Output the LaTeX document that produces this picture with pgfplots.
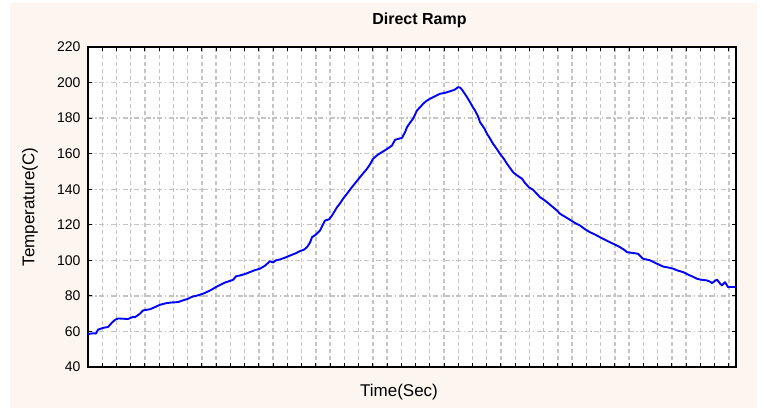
\documentclass[border=0pt]{standalone}
\usepackage{pgfplots}
\pgfplotsset{compat=1.18}
\usepackage{fontspec}
\setmainfont{Liberation Sans}
\definecolor{bgbeige}{RGB}{253,246,240}
\definecolor{gridgray}{RGB}{196,196,196}
\definecolor{curveblue}{RGB}{0,0,255}
\begin{document}
\begin{tikzpicture}[x=1pt,y=1pt]
\path[use as bounding box] (0,0) rectangle (763,409);
\fill[bgbeige] (10,1) rectangle (757,406);
\begin{axis}[
  at={(88pt,42pt)}, anchor=south west,
  scale only axis, width=648pt, height=320pt,
  xmin=88, xmax=736, ymin=40, ymax=220,
  xtick={102.24,116.48,...,729}, xticklabels={},
  ytick={40,60,...,220},
  /pgf/number format/assume math mode=true,
  yticklabel style={font=\fontsize{14}{16}\selectfont, xshift=-4pt},
  axis background/.style={fill=white},
  axis line style={line width=2pt, black},
  tick style={black, line width=1pt},
  major tick length=4pt,
  grid=major,
  major x grid style={gridgray, line width=1.4pt, dash pattern=on 4pt off 3pt},
  major y grid style={gridgray, line width=1.4pt, dash pattern=on 5pt off 2.5pt on 1.5pt off 2.5pt},
  clip=true,
]
\addplot[curveblue, line width=1.9pt, line join=round] coordinates {
(88,58.5)(93,59)(96,58.8)(98,61)(103,62)(108,62.5)(112,65)(115,66.5)(118,67.3)
(128,67)(133,68.2)(135,68)(140,70)(143,71.8)(150,72.5)(155,73.7)(160,75)(167,76)
(172,76.3)(178,76.5)(183,77.5)(186,78)(188,78.4)(192,79.5)(196,80)(203,81.2)
(210,83)(217,85.3)(225,87.5)(233,89)(236,91)(240,91.5)(245,92.3)(250,93.4)
(255,94.5)(260,95.3)(265,97)(268,98.5)(270,99.5)(273,98.8)(276,100)(280,100.5)
(285,101.5)(290,102.7)(295,103.8)(300,105.2)(304,106)(307,107.4)(310,110)
(312,113)(316,114.5)(320,116.8)(325,122.4)(329,123)(332,125.2)(335,128)
(337,129.9)(340,132)(343,134.6)(347,137.5)(352,141.2)(356,144)(360,146.8)
(364,149.5)(367,151.5)(370,154)(373,157.1)(378,159.5)(383,161.2)(388,163)
(392,164.6)(395,167.8)(402,168.9)(405,172)(407,174.9)(410,177.4)(413,179.6)
(417,184.3)(420,186.1)(423,188)(426,189.5)(430,190.9)(435,192.3)(440,193.7)
(445,194.2)(450,195.1)(454,195.8)(456,196.5)(458,197.4)(460,197.2)(462,196)
(465,193.5)(467,191.8)(470,189)(473,186)(475,184.3)(478,181)(480,177.7)
(484,174.5)(487,171.2)(490,168.5)(493,165.6)(497,162.5)(500,159.9)(504,157)
(507,154.3)(510,152)(513,149.6)(517,147.8)(522,145.9)(525,143.5)(529,141)
(533,139.7)(537,137.3)(540,135.5)(544,134)(547,132.7)(550,131.3)(553,129.9)
(557,128)(560,126.2)(565,124.5)(570,122.8)(575,121)(580,119.6)(585,117.5)
(590,115.8)(595,114.5)(600,113)(605,111.6)(610,110.2)(615,108.8)(620,107.4)
(624,106)(627,104.6)(632,104.2)(638,103.7)(643,100.9)(650,100)(657,98.1)
(663,96.5)(668,96)(673,95.3)(678,94.2)(683,93.4)(690,91.5)(694,90.5)(697,89.6)
(702,89)(707,88.7)(710,88)(712,87.2)(715,88.5)(717,89.1)(720,87)(722,85.9)
(725,87.7)(728,85)(735,85)(736,85)
};
\end{axis}
\node[font=\bfseries\fontsize{16}{18}\selectfont] at (419.5,389) {Direct Ramp};
\node[font=\fontsize{17}{19}\selectfont] at (399,17) {Time(Sec)};
\node[font=\fontsize{17}{19}\selectfont, rotate=90] at (30,202) {Temperature(C)};
\end{tikzpicture}
\end{document}
